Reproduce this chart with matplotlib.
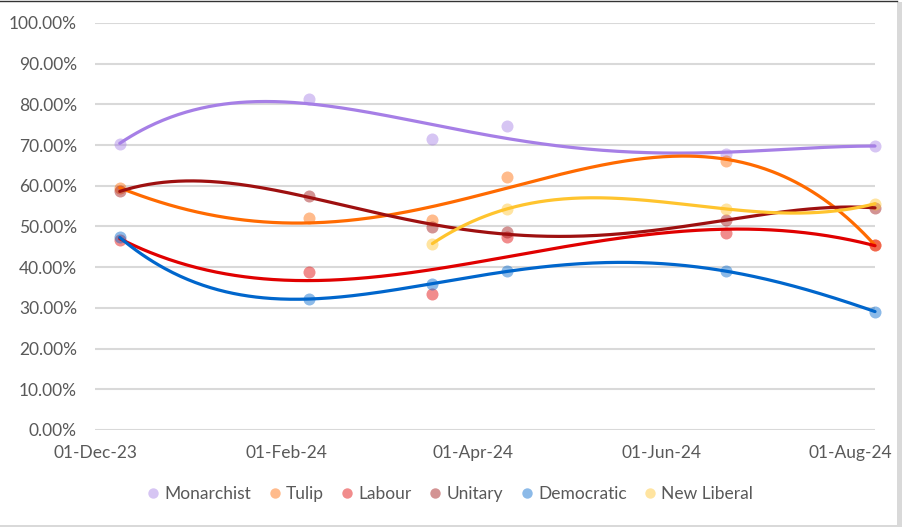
import matplotlib
matplotlib.use('Agg')
import matplotlib.pyplot as plt
import matplotlib.dates as mdates
from matplotlib.lines import Line2D
from matplotlib.patches import Rectangle
from matplotlib.ticker import FuncFormatter
import numpy as np
import datetime as dt

# ---- data ----
dates = ['2023-12-09', '2024-02-08', '2024-03-19', '2024-04-12', '2024-06-22', '2024-08-09']
series_names = ['Monarchist', 'Tulip', 'Labour', 'Unitary', 'Democratic', 'New Liberal']
monarchist = [70.3, 81.4, 71.4, 74.6, 67.7, 69.9]
tulip = [59.4, 52.0, 51.6, 62.1, 66.0, 45.5]
labour = [46.8, 38.8, 33.3, 47.5, 48.4, 45.5]
unitary = [58.6, 57.4, 49.9, 48.6, 51.5, 54.6]
democratic = [47.3, 32.2, 35.9, 39.0, 39.0, 29.1]
new_liberal = [None, None, 45.8, 54.3, 54.3, 55.6]
x_tick_labels = ['2023-12-01', '2024-02-01', '2024-04-01', '2024-06-01', '2024-08-01']

values = [monarchist, tulip, labour, unitary, democratic, new_liberal]
line_colors = ['#A67FE6', '#FF6A00', '#E00000', '#9E1010', '#0066CC', '#FFC42E']
TREND_ORDER = 4

plt.rcParams['font.family'] = ['Lato', 'DejaVu Sans']
TXT = '#595959'

fig = plt.figure(figsize=(9.02, 5.27), dpi=100)
ax = fig.add_axes([95 / 902, 1 - 430 / 527, 780 / 902, 407 / 527])

xd = np.array([mdates.date2num(dt.datetime.strptime(d, '%Y-%m-%d')) for d in dates])

for name, vals, col in zip(series_names, values, line_colors):
    xs = np.array([x for x, v in zip(xd, vals) if v is not None])
    ys = np.array([v for v in vals if v is not None]) / 100.0
    ax.scatter(xs, ys, s=75, color=col, alpha=0.45, linewidths=0, zorder=3, label=name)
    x0 = xs.mean()
    sc = xs.std()
    order = min(TREND_ORDER, len(xs) - 1)
    coef = np.polyfit((xs - x0) / sc, ys, order)
    xx = np.linspace(xs.min(), xs.max(), 400)
    ax.plot(xx, np.polyval(coef, (xx - x0) / sc), color=col, lw=2.3, zorder=4,
            solid_capstyle='round')

xmin = mdates.date2num(dt.datetime(2023, 12, 1))
ax.set_xlim(xmin, xd.max())
ax.set_ylim(0, 1.0)
ax.set_yticks(np.arange(0, 1.01, 0.1))
ax.yaxis.set_major_formatter(FuncFormatter(lambda v, p: f'{v * 100:.2f}%'))
tick_x = [mdates.date2num(dt.datetime.strptime(d, '%Y-%m-%d')) for d in x_tick_labels]
ax.set_xticks(tick_x)
ax.set_xticklabels([dt.datetime.strptime(d, '%Y-%m-%d').strftime('%d-%b-%y') for d in x_tick_labels])

ax.grid(axis='y', color='#D9D9D9', lw=1.5, zorder=0)
ax.set_axisbelow(True)
for s in ax.spines.values():
    s.set_visible(False)
ax.tick_params(axis='both', length=0, colors=TXT, labelsize=12.5)
ax.tick_params(axis='y', pad=13)
ax.tick_params(axis='x', pad=11)
for c in ax.collections:
    c.set_clip_on(False)
for l in ax.lines:
    l.set_clip_on(False)

handles = [Line2D([], [], marker='o', ls='none', markersize=7.5, markeredgewidth=0,
                  color=c, alpha=0.45) for c in line_colors]
leg = fig.legend(handles, series_names, loc='center', bbox_to_anchor=(0.5, 1 - 494 / 527),
                 ncol=6, frameon=False, fontsize=12.5, handlelength=0.5,
                 handletextpad=0.4, columnspacing=1.1, labelcolor=TXT)

# chart border pieces
fig.add_artist(Line2D([0, 897 / 902], [1 - 0.5 / 527, 1 - 0.5 / 527], color='#333333', lw=1.0,
                      transform=fig.transFigure))
fig.add_artist(Rectangle((897 / 902, 0), 5 / 902, 1 - 2 / 527, color='#D9D9D9',
                         transform=fig.transFigure, lw=0))
fig.add_artist(Rectangle((0, 0), 1, 2 / 527, color='#D9D9D9',
                         transform=fig.transFigure, lw=0))

fig.savefig('out.png', dpi=100)
